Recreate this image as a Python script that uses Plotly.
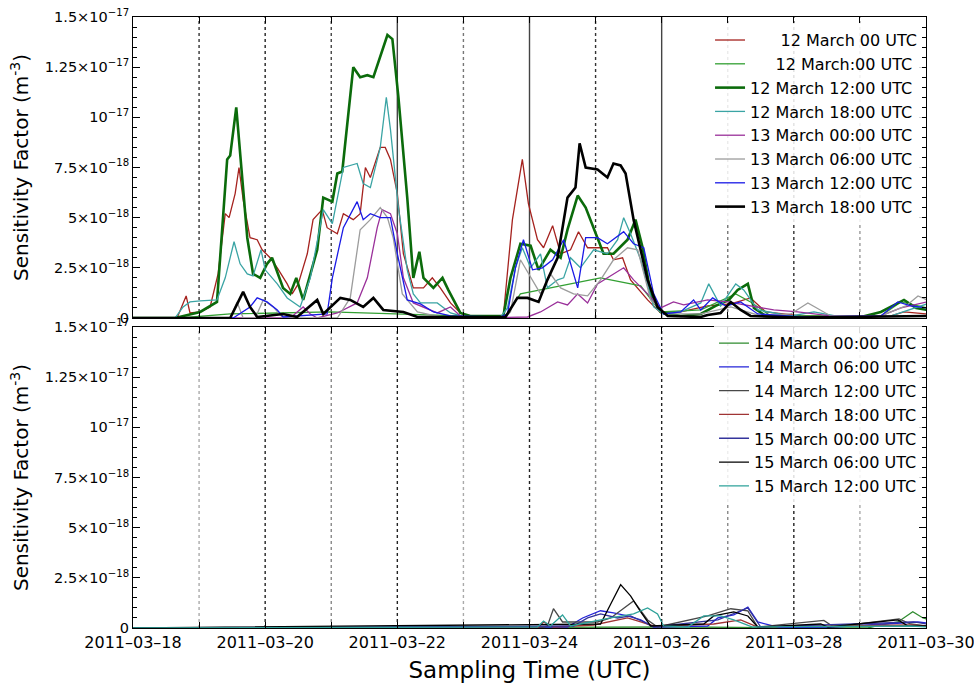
import pandas as pd
import plotly.graph_objects as go

# ---------------- data (hours since 2011-03-18 00 UTC, values in 1e-18 m^-3) ----------------
SCALE = 1e-18
BASE = "2011-03-18"

# Top panel series
T_12M00 = [0, 16.0, 19.3, 20.7, 24.4, 28.0, 30.9, 33.5, 34.9, 37.1, 38.5, 40.0, 42.5, 45.1, 46.9, 49.8, 52.4, 56.0, 57.8, 60.0,
           63.3, 65.4, 68.7, 70.5, 74.2, 76.4, 80.0, 82.5, 84.4, 86.2, 89.8, 91.6, 93.5, 96.0, 98.2, 101.8, 105.5, 108.7,
           111.6, 115.3, 118.9, 122.5, 133.5, 134.5, 137.8, 141.4, 143.6, 146.9, 149.1, 152.4, 155.3, 158.9, 161.8, 165.1,
           169.8, 172.3, 174.5, 177.8, 180.7, 186.9, 191.6, 198.9, 208.7, 217.1, 224.3, 229.8, 242.5, 264.4, 275.3, 280.0, 288.3]
V_12M00 = [0, 0, 1.1, 0.25, 0.3, 0.55, 2.2, 5.2, 5.0, 6.2, 7.5, 5.9, 4.0, 3.9, 3.4, 3.0, 2.5, 1.7, 1.2, 1.7,
           3.2, 4.9, 5.4, 4.5, 4.2, 5.2, 4.9, 5.2, 7.5, 7.0, 8.5, 8.5, 7.9, 6.2, 3.2, 1.5, 1.5, 2.0,
           1.5, 0.75, 0.25, 0.05, 0.05, 0.1, 4.9, 7.9, 5.7, 3.9, 3.5, 4.6, 3.2, 3.4, 4.3, 3.5,
           3.5, 3.5, 2.9, 3.0, 1.9, 0.9, 0.25, 0.3, 0.6, 0.7, 1.0, 0.3, 0.1, 0.05, 0.1, 0.3, 0.2]

T_12MB = [0, 17.1, 35.3, 71.6, 118.9, 135.3, 140.7, 155.3, 169.8, 184.4, 191.6, 206.2, 218.9, 224.3, 231.6, 271.6, 278.9, 288.3]
V_12MB = [0, 0, 0.2, 0.3, 0.1, 0.1, 1.2, 1.6, 2.0, 1.6, 0.3, 0.4, 1.2, 0.8, 0.1, 0.1, 0.8, 0.5]

T_12M12 = [0, 15.3, 24.4, 30.5, 34.2, 35.3, 37.5, 38.9, 41.5, 43.6, 46.2, 48.7, 50.5, 54.5, 57.1, 59.3, 61.8, 66.9, 69.1,
           72.4, 74.2, 76.0, 80.0, 82.5, 85.1, 87.3, 89.8, 92.4, 94.2, 96.4, 99.6, 101.8, 104.0, 105.5, 109.1, 112.4,
           114.5, 118.9, 122.5, 133.5, 134.5, 137.1, 140.7, 144.4, 147.3, 151.6, 155.3, 157.8, 161.5, 164.4, 167.3,
           170.9, 174.5, 179.6, 182.5, 185.1, 188.0, 191.6, 198.9, 206.2, 211.6, 216.4, 219.6, 223.3, 225.5, 229.8,
           242.5, 264.4, 271.6, 280.0, 284.4, 288.3]
V_12M12 = [0, 0, 0.3, 0.8, 7.9, 8.1, 10.5, 8.2, 4.0, 2.2, 2.0, 2.7, 3.0, 1.5, 1.2, 2.0, 0.9, 3.4, 6.0,
           5.8, 7.2, 7.3, 12.5, 12.0, 12.1, 12.0, 13.0, 14.1, 13.9, 11.0, 6.0, 2.0, 3.3, 2.0, 1.5, 2.0,
           1.4, 0.25, 0.1, 0.1, 0.1, 2.0, 3.7, 3.6, 2.4, 3.4, 3.0, 4.4, 6.1, 5.5, 4.5,
           3.2, 3.2, 3.9, 4.9, 3.5, 1.2, 0.3, 0.1, 0.2, 0.6, 0.9, 1.4, 1.7, 0.5, 0.1,
           0.05, 0.05, 0.3, 0.9, 0.5, 0.4]

T_12M18 = [0, 15.3, 18.2, 20.7, 24.4, 30.5, 33.5, 36.7, 38.9, 41.5, 43.6, 46.5, 48.0, 52.4, 56.0, 60.7, 64.4, 69.1, 72.4,
           76.4, 81.4, 83.6, 86.2, 89.8, 92.0, 93.5, 96.4, 99.6, 101.8, 104.4, 110.5, 115.3, 120.7, 133.5, 136.0, 138.9,
           141.4, 144.4, 148.0, 150.5, 154.2, 156.4, 158.9, 162.5, 167.3, 172.3, 176.0, 178.2, 180.7, 184.4, 189.1,
           192.7, 198.9, 206.2, 209.1, 213.4, 218.9, 221.8, 226.9, 238.9, 247.3, 257.1, 275.3, 284.3, 288.3]
V_12M18 = [0, 0, 0.55, 0.8, 0.85, 0.9, 2.0, 3.8, 2.7, 2.2, 2.1, 3.4, 2.4, 1.7, 1.0, 0.55, 2.0, 5.4, 4.7,
           7.5, 7.7, 6.7, 6.5, 8.5, 11.0, 9.4, 5.5, 2.4, 1.2, 0.75, 0.75, 0.25, 0.05, 0.05, 0.5, 2.5,
           3.5, 2.5, 3.2, 1.5, 1.9, 2.0, 3.0, 2.5, 3.4, 3.2, 3.9, 5.0, 4.2, 2.9, 0.55,
           0.2, 0.3, 0.75, 1.7, 0.6, 1.7, 1.4, 0.4, 0.1, 0.3, 0.05, 0.1, 0.5, 0.7]

T_13M00 = [0, 57.1, 61.8, 64.4, 66.9, 74.2, 81.4, 85.1, 88.7, 90.5, 93.5, 96.0, 98.2, 101.8, 110.5, 115.3, 118.9, 122.5,
           143.3, 148.0, 154.2, 157.8, 161.5, 165.1, 168.7, 172.3, 176.0, 178.2, 181.8, 186.9, 191.6, 194.2, 196.3,
           200.0, 208.7, 216.0, 224.3, 232.7, 241.4, 253.4, 271.6, 278.9, 288.3]
V_13M00 = [0, 0, 0.55, 0.2, 0, 0.25, 0.75, 2.0, 4.5, 5.4, 5.2, 4.2, 2.0, 0.75, 0.25, 0.55, 0.1, 0,
           0.05, 0.3, 0.8, 0.65, 1.2, 0.75, 1.7, 2.0, 2.3, 2.5, 1.9, 1.2, 0.5, 0.65, 0.8,
           0.65, 0.9, 0.8, 0.6, 0.4, 0.3, 0.1, 0.1, 0.5, 0.8]

T_13M06 = [0, 35.3, 37.8, 40.0, 44.4, 47.3, 50.9, 54.5, 74.2, 78.9, 82.5, 86.2, 89.8, 92.4, 94.5, 97.8, 103.3, 111.6,
           135.3, 137.1, 140.7, 144.4, 148.0, 151.6, 155.3, 160.0, 165.1, 169.8, 174.5, 179.6, 183.3, 188.0, 193.4,
           206.2, 217.1, 228.0, 238.9, 245.1, 253.4, 271.6, 280.7, 285.1, 288.3]
V_13M06 = [0, 0, 0.8, 0, 0, 0.9, 0.55, 0, 0, 1.0, 4.4, 4.9, 5.5, 5.0, 4.0, 1.2, 0.3, 0.05,
           0.05, 0.3, 2.9, 2.0, 1.2, 2.2, 1.5, 1.2, 1.1, 1.9, 2.9, 3.5, 3.4, 0.9, 0.2,
           0.2, 0.55, 0.1, 0.2, 0.75, 0.1, 0.1, 0.6, 1.1, 0.9]

T_13M12 = [0, 36.4, 42.5, 45.1, 48.7, 52.4, 54.5, 70.5, 72.4, 76.4, 81.4, 83.6, 86.2, 89.8, 93.5, 96.0, 99.6, 104.4,
           109.1, 115.3, 133.5, 136.0, 138.9, 141.8, 145.1, 148.7, 152.4, 156.4, 161.5, 164.4, 168.7, 172.3, 178.2,
           181.8, 185.5, 189.1, 192.7, 198.9, 203.6, 206.2, 210.5, 215.3, 220.7, 226.9, 242.5, 271.6, 277.8, 282.5, 288.3]
V_13M12 = [0, 0, 0.55, 1.0, 0.8, 0.4, 0.05, 0.2, 2.0, 4.5, 5.8, 4.9, 5.2, 5.0, 5.0, 3.2, 0.9, 0.7,
           0.3, 0.1, 0.05, 0.2, 2.5, 3.9, 2.4, 2.5, 2.9, 3.9, 1.5, 4.0, 4.0, 3.7, 4.3,
           3.7, 3.5, 1.2, 0.2, 0.3, 0.9, 0.4, 1.0, 0.6, 0.8, 0.2, 0.05, 0.1, 0.8, 0.6, 0.5]

T_13M18 = [0, 35.3, 40.0, 42.5, 45.1, 54.5, 59.6, 66.9, 69.1, 75.3, 78.9, 83.6, 87.3, 90.9, 98.2, 103.3, 135.3, 139.6,
           143.3, 147.3, 150.5, 154.2, 157.8, 160.7, 162.2, 164.4, 168.7, 172.3, 174.5, 177.1, 178.9, 181.8, 186.9,
           190.5, 194.2, 206.2, 208.7, 213.4, 217.1, 220.7, 224.3, 242.5, 288.3]
V_13M18 = [0, 0, 1.3, 0.55, 0.05, 0.2, 0.05, 0.9, 0.2, 1.0, 0.9, 0.55, 1.0, 0.4, 0.3, 0.05, 0.05, 1.0,
           1.0, 0.8, 1.9, 3.0, 6.0, 6.5, 8.7, 7.5, 7.4, 7.0, 7.7, 7.6, 7.2, 4.9, 1.9,
           0.55, 0.1, 0.05, 0.15, 0.25, 0.8, 0.4, 0.1, 0.02, 0.1]

# Bottom panel series
T_14M00 = [0, 200.0, 255.0, 266.9, 271.6, 277.8, 283.2, 286.9, 288.3]
V_14M00 = [0, 0.05, 0, 0, 0.15, 0.3, 0.81, 0.5, 0.45]

T_14M06 = [0, 157.8, 163.3, 166.2, 169.8, 174.5, 179.6, 184.4, 189.1, 208.7, 212.4, 218.2, 223.3, 226.9, 231.6, 235.0,
           254.5, 285.1, 288.3]
V_14M06 = [0, 0.05, 0.5, 0.65, 0.86, 0.75, 0.6, 0.4, 0.05, 0.1, 0.5, 0.65, 1.04, 0.3, 0.15, 0.02,
           0.05, 0.3, 0.25]

T_14M12 = [0, 148.0, 150.5, 152.7, 156.0, 168.7, 173.5, 181.8, 186.9, 190.5, 208.7, 217.1, 223.3, 226.9, 250.9, 254.5,
           278.2, 282.5, 288.3]
V_14M12 = [0, 0, 0.1, 0.96, 0.3, 0.3, 0.5, 1.35, 0.4, 0.05, 0.6, 0.96, 0.85, 0.05, 0.38, 0.05,
           0.45, 0.2, 0.1]

T_14M18 = [0, 147.0, 149.1, 152.7, 167.3, 179.6, 184.4, 189.1, 210.9, 220.7, 226.9, 238.9, 282.5, 288.3]
V_14M18 = [0, 0, 0.3, 0.05, 0.15, 0.5, 0.3, 0.1, 0.2, 0.4, 0.05, 0.08, 0.15, 0.1]

T_15M00 = [0, 160.0, 165.1, 169.8, 176.0, 180.7, 185.5, 189.1, 212.4, 223.3, 228.0, 283.6, 288.3]
V_15M00 = [0, 0.1, 0.5, 0.7, 0.5, 0.6, 0.3, 0.05, 0.4, 1.0, 0.05, 0.3, 0.2]

T_15M06 = [0, 169.8, 173.5, 177.1, 180.7, 184.4, 188.0, 207.3, 210.9, 218.2, 223.3, 226.9, 249.8, 252.4, 277.8, 281.5,
           288.3]
V_15M06 = [0, 0.2, 1.2, 2.16, 1.6, 0.8, 0.1, 0.2, 0.6, 0.8, 0.6, 0.05, 0.2, 0.05, 0.4, 0.1, 0.1]

T_15M12 = [0, 146.9, 149.1, 151.6, 156.0, 158.9, 173.5, 181.8, 186.9, 190.5, 192.7, 201.5, 207.3, 213.4, 218.2, 225.0,
           282.5, 288.3]
V_15M12 = [0, 0.05, 0.35, 0.1, 0.65, 0.1, 0.5, 0.7, 1.0, 0.7, 0.1, 0.05, 0.6, 0.6, 0.4, 0.05,
           0.1, 0.05]

NB = "\u00a0"
TOP_SERIES = [
    (NB * 6 + "12 March 00 UTC", T_12M00, V_12M00, "#a5221e", 1.3),
    (NB * 5 + "12 March:00 UTC", T_12MB, V_12MB, "#33a033", 1.3),
    ("12 March 12:00 UTC", T_12M12, V_12M12, "#0b6b0b", 2.6),
    ("12 March 18:00 UTC", T_12M18, V_12M18, "#3aa4a4", 1.3),
    ("13 March 00:00 UTC", T_13M00, V_13M00, "#9a309a", 1.3),
    ("13 March 06:00 UTC", T_13M06, V_13M06, "#9c9c9c", 1.3),
    ("13 March 12:00 UTC", T_13M12, V_13M12, "#1a1ae6", 1.3),
    ("13 March 18:00 UTC", T_13M18, V_13M18, "#000000", 2.6),
]
BOTTOM_SERIES = [
    ("14 March 00:00 UTC", T_14M00, V_14M00, "#2e8b2e", 1.3),
    ("14 March 06:00 UTC", T_14M06, V_14M06, "#2424d8", 1.3),
    ("14 March 12:00 UTC", T_14M12, V_14M12, "#484848", 1.3),
    ("14 March 18:00 UTC", T_14M18, V_14M18, "#a03434", 1.3),
    ("15 March 00:00 UTC", T_15M00, V_15M00, "#34349c", 1.3),
    ("15 March 06:00 UTC", T_15M06, V_15M06, "#000000", 1.3),
    ("15 March 12:00 UTC", T_15M12, V_15M12, "#2ea29a", 1.3),
]

DAYS = ["2011-03-%02d" % d for d in range(18, 31)]
DAY_LABELS = [d.replace("-", "–") if i % 2 == 0 else "" for i, d in enumerate(DAYS)]
Y_TICKS = [0, 2.5e-18, 5e-18, 7.5e-18, 1e-17, 1.25e-17, 1.5e-17]
Y_LABELS = ["0", "2.5×10<sup>−18</sup>", "5×10<sup>−18</sup>", "7.5×10<sup>−18</sup>",
            "10<sup>−17</sup>", "1.25×10<sup>−17</sup>", "1.5×10<sup>−17</sup>"]

VLINE_DAYS = ["2011-03-%02d" % d for d in range(19, 30)]
VSTYLE_TOP = [("dot", "#333"), ("dot", "#222"), ("dot", "#444"), ("solid", "#444"), ("dot", "#777"),
              ("solid", "#444"), ("dot", "#333"), ("solid", "#444"), ("dot", "#777"), ("dot", "#333"), ("dot", "#999")]
VSTYLE_BOT = [("dot", "#aaa"), ("dot", "#222"), ("dot", "#888"), ("dot", "#222"), ("dot", "#aaa"),
              ("dot", "#222"), ("dot", "#888"), ("dot", "#222"), ("dot", "#888"), ("dot", "#222"), ("dot", "#aaa")]


def to_time(hours):
    return pd.Timestamp(BASE) + pd.to_timedelta(hours, unit="h")


fig = go.Figure()
for name, t, v, c, w in TOP_SERIES:
    fig.add_trace(go.Scatter(x=to_time(t), y=[a * SCALE for a in v], mode="lines", name=name,
                             line=dict(color=c, width=w), xaxis="x", yaxis="y", legend="legend"))
for name, t, v, c, w in BOTTOM_SERIES:
    fig.add_trace(go.Scatter(x=to_time(t), y=[a * SCALE for a in v], mode="lines", name=name,
                             line=dict(color=c, width=w), xaxis="x2", yaxis="y2", legend="legend2"))

shapes = []
for d, (dash, col) in zip(VLINE_DAYS, VSTYLE_TOP):
    shapes.append(dict(type="line", xref="x", yref="y domain", x0=d, x1=d, y0=0, y1=1,
                       line=dict(color=col, width=1.4, dash=dash), layer="below"))
for d, (dash, col) in zip(VLINE_DAYS, VSTYLE_BOT):
    shapes.append(dict(type="line", xref="x2", yref="y2 domain", x0=d, x1=d, y0=0, y1=1,
                       line=dict(color=col, width=1.4, dash=dash), layer="below"))

FONT = "DejaVu Sans"
xcommon = dict(type="date", range=[DAYS[0], DAYS[-1]], tickvals=DAYS, ticktext=DAY_LABELS,
               ticks="inside", ticklen=6, tickcolor="black", showline=True, linecolor="black",
               linewidth=1, mirror="ticks", showgrid=False, zeroline=False,
               ticklabeloverflow="allow",
               tickfont=dict(family=FONT, size=16, color="black"))
ycommon = dict(range=[0, 1.5e-17], tickvals=Y_TICKS, ticktext=Y_LABELS, ticks="inside", ticklen=7,
               tickcolor="black", showline=True, linecolor="black", linewidth=1, mirror="ticks",
               showgrid=False, zeroline=False, tickfont=dict(family=FONT, size=14.5, color="black"),
               minor=dict(ticks="inside", ticklen=4, dtick=5e-19, tickcolor="black", showgrid=False),
               title=dict(text="Sensitivity Factor (m<sup>-3</sup>)",
                          font=dict(family=FONT, size=20, color="black"), standoff=10))

fig.update_layout(
    width=974, height=688,
    margin=dict(l=133, r=48, t=17, b=60, autoexpand=False),
    paper_bgcolor="white", plot_bgcolor="white",
    showlegend=True,
    xaxis=dict(domain=[0, 1], anchor="y", showticklabels=False, **xcommon),
    xaxis2=dict(domain=[0, 1], anchor="y2", matches="x",
                title=dict(text="Sampling Time (UTC)", font=dict(family=FONT, size=23, color="black"),
                           standoff=10),
                **xcommon),
    yaxis=dict(domain=[0.5074, 1], anchor="x", **ycommon),
    yaxis2=dict(domain=[0, 0.4926], anchor="x2", **ycommon),
    legend=dict(x=0.995, xanchor="right", y=0.99, yanchor="top", bgcolor="rgba(255,255,255,0.85)",
                font=dict(family=FONT, size=16, color="black"), tracegroupgap=0),
    legend2=dict(x=0.995, xanchor="right", y=0.494, yanchor="top", bgcolor="rgba(255,255,255,0.85)",
                 font=dict(family=FONT, size=16, color="black"), tracegroupgap=0),
    shapes=shapes,
)

fig.write_html("out.html")
